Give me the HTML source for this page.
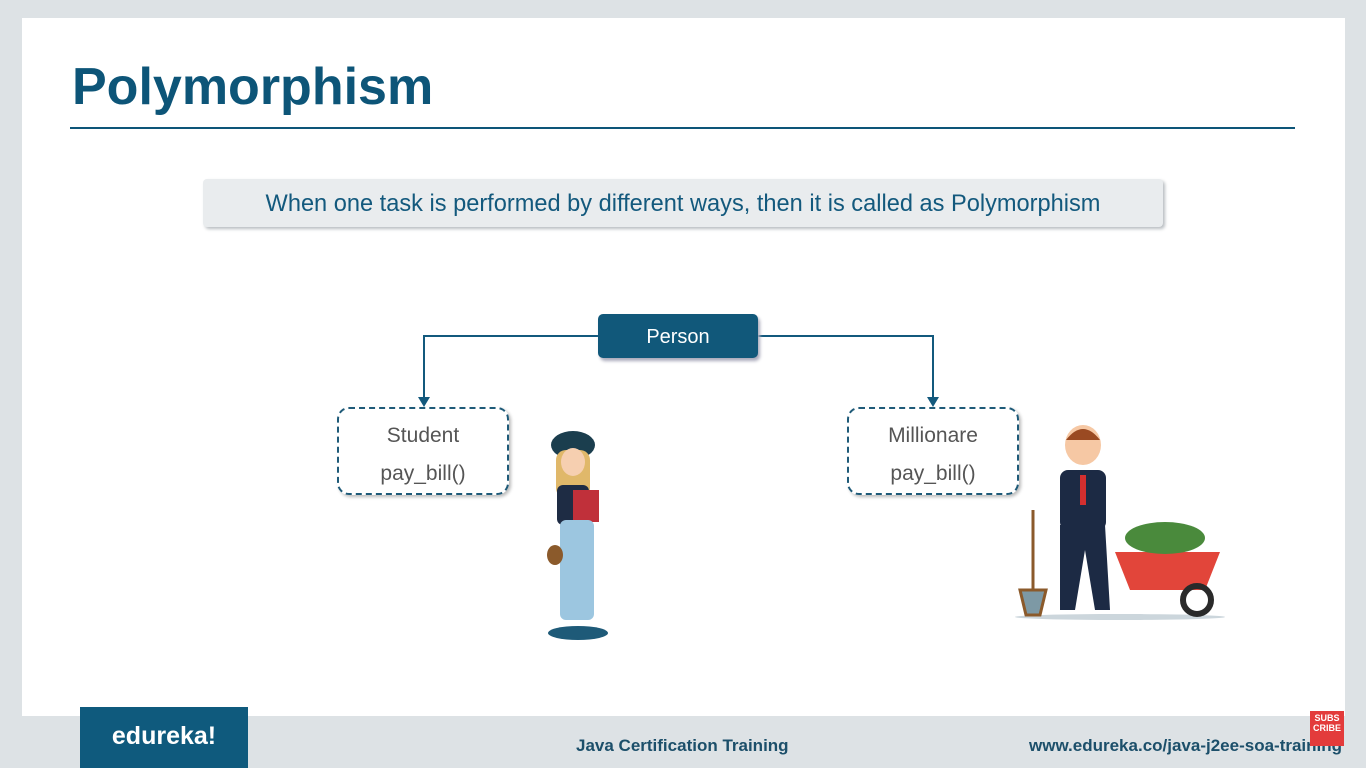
<!DOCTYPE html>
<html><head><meta charset="utf-8"><style>
body{margin:0;width:1366px;height:768px;background:#dde2e5;position:relative;overflow:hidden;font-family:"Liberation Sans",sans-serif}
.abs{position:absolute}
</style></head><body>
<div class="abs" style="left:22px;top:18px;width:1323px;height:698px;background:#fff"></div>
<div class="abs" style="left:72px;top:57px;font-size:52px;font-weight:bold;color:#0d5578">Polymorphism</div>
<div class="abs" style="left:70px;top:127px;width:1225px;height:2px;background:#0d5578"></div>
<div class="abs" style="left:203px;top:179px;width:960px;height:48px;background:#e9ecee;border-radius:4px;box-shadow:2px 2px 3px #b8bdc1;text-align:center;line-height:50px;font-size:23.6px;color:#13597d;white-space:nowrap">When one task is performed by different ways, then it is called as Polymorphism</div>
<svg class="abs" style="left:0;top:0" width="1366" height="768">
<path d="M598 336 H424 V400 M758 336 H933 V400" stroke="#13597d" stroke-width="2" fill="none"/>
<path d="M418 397 L430 397 L424 407 Z M927 397 L939 397 L933 407 Z" fill="#13597d"/>
<g>
<ellipse cx="578" cy="633" rx="30" ry="7" fill="#1e5a78"/>
<ellipse cx="573" cy="445" rx="22" ry="14" fill="#1b3e4e"/>
<rect x="556" y="450" width="34" height="48" rx="10" fill="#e0b86a"/>
<ellipse cx="573" cy="462" rx="12" ry="14" fill="#f6cfb0"/>
<rect x="557" y="485" width="32" height="40" rx="6" fill="#1e2c44"/>
<rect x="573" y="490" width="26" height="32" fill="#c0303a"/>
<rect x="560" y="520" width="34" height="100" rx="6" fill="#9cc6e0"/>
<ellipse cx="555" cy="555" rx="8" ry="10" fill="#8b5a2b"/>
</g>
<g>
<ellipse cx="1120" cy="617" rx="105" ry="3" fill="#ccd6dc"/>
<ellipse cx="1083" cy="445" rx="18" ry="20" fill="#f6c8a4"/>
<path d="M1066 440 Q1083 418 1100 440 Z" fill="#9a4a22"/>
<rect x="1060" y="470" width="46" height="60" rx="8" fill="#1c2a44"/>
<rect x="1080" y="475" width="6" height="30" fill="#d32f2f"/>
<path d="M1060 525 L1105 525 L1110 610 L1095 610 L1085 550 L1075 610 L1060 610 Z" fill="#1c2a44"/>
<path d="M1033 510 V590 M1020 590 H1046 L1040 615 H1026 Z" stroke="#8b5a2b" stroke-width="3" fill="#7d99a5"/>
<path d="M1115 552 H1220 L1205 590 H1130 Z" fill="#e2453a"/>
<ellipse cx="1165" cy="538" rx="40" ry="16" fill="#4a8a3c"/>
<circle cx="1197" cy="600" r="14" fill="none" stroke="#2a2a2a" stroke-width="6"/>
</g>
</svg>
<div class="abs" style="left:598px;top:314px;width:160px;height:44px;background:#11587a;border-radius:5px;box-shadow:2px 3px 3px #aab;color:#fff;font-size:20px;text-align:center;line-height:47px">Person</div>
<div class="abs" style="left:337px;top:407px;width:172px;height:88px;border:2px dashed #1e5a78;border-radius:12px;box-shadow:2px 2px 3px #bbb;text-align:center;color:#555;font-size:21px;line-height:38px;padding-top:8px;box-sizing:border-box">Student<br>pay_bill()</div>
<div class="abs" style="left:847px;top:407px;width:172px;height:88px;border:2px dashed #1e5a78;border-radius:12px;box-shadow:2px 2px 3px #bbb;text-align:center;color:#555;font-size:21px;line-height:38px;padding-top:8px;box-sizing:border-box">Millionare<br>pay_bill()</div>
<div class="abs" style="left:80px;top:707px;width:168px;height:61px;background:#0f5a7d;color:#fff;font-size:25px;font-weight:bold;text-align:center;line-height:58px">edureka!</div>
<div class="abs" style="left:576px;top:736px;font-size:17px;font-weight:bold;color:#1c4f6a">Java Certification Training</div>
<div class="abs" style="left:1029px;top:736px;font-size:17px;font-weight:bold;color:#1c4f6a;white-space:nowrap">www.edureka.co/java-j2ee-soa-training</div>
<div class="abs" style="left:1310px;top:711px;width:34px;height:35px;background:#e33b3b;color:#fff;font-size:9px;font-weight:bold;line-height:10px;text-align:center;padding-top:2px;box-sizing:border-box">SUBS<br>CRIBE</div>
</body></html>
